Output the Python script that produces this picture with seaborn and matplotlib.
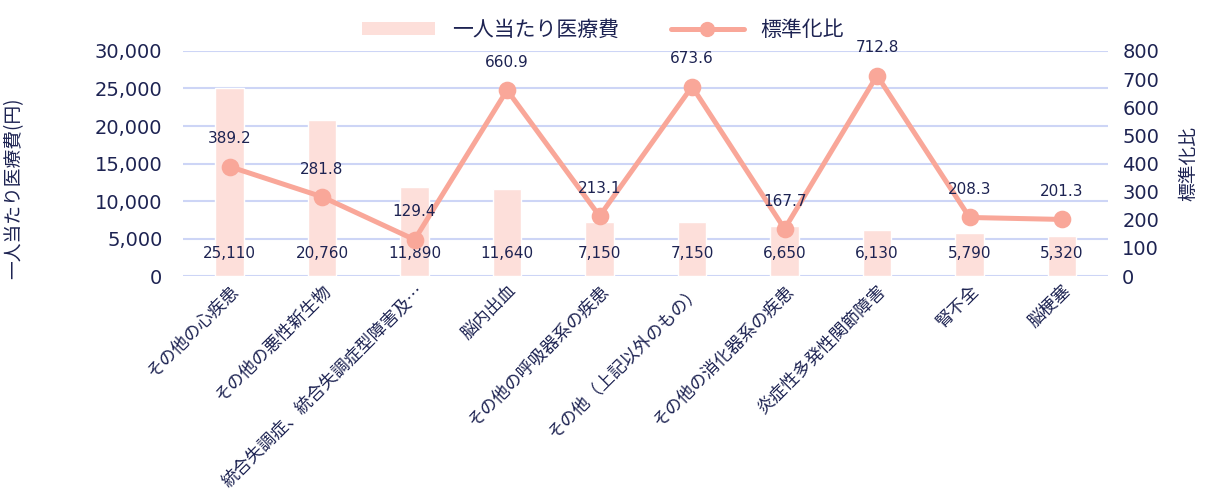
import matplotlib
matplotlib.use("Agg")
import matplotlib.pyplot as plt
import seaborn as sns
import pandas as pd
import numpy as np
from matplotlib.lines import Line2D
from matplotlib.patches import Patch

categories = ["その他の心疾患", "その他の悪性新生物", "統合失調症、統合失調症型障害及…", "脳内出血",
              "その他の呼吸器系の疾患", "その他（上記以外のもの）", "その他の消化器系の疾患",
              "炎症性多発性関節障害", "腎不全", "脳梗塞"]
cost = [25110, 20760, 11890, 11640, 7150, 7150, 6650, 6130, 5790, 5320]
ratio = [389.2, 281.8, 129.4, 660.9, 213.1, 673.6, 167.7, 712.8, 208.3, 201.3]
left_ticks = [0, 5000, 10000, 15000, 20000, 25000, 30000]
right_ticks = [0, 100, 200, 300, 400, 500, 600, 700, 800]

sns.set_theme(style="white")
plt.rcParams['font.family'] = ['DejaVu Sans', 'Noto Sans CJK JP']
JP = ['Noto Sans CJK JP', 'DejaVu Sans']

TEXT = "#1d2352"
BAR = "#fddfda"
LINE = "#f9a799"
GRID = "#cdd5f6"

df = pd.DataFrame({"cat": categories, "cost": cost, "ratio": ratio})

fig = plt.figure(figsize=(12.06, 4.93), dpi=100)
ax = fig.add_axes([0.152, 0.44, 0.767, 0.4566])
sns.barplot(data=df, x="cat", y="cost", color=BAR, width=0.31, ax=ax, saturation=1)
ax.set_ylim(0, 30000)
ax.set_yticks(left_ticks)
ax.set_yticklabels([f"{v:,}" for v in left_ticks], fontsize=14, color=TEXT)
ax.yaxis.grid(True, color=GRID, linewidth=1.5)
ax.set_axisbelow(True)
for s in ax.spines.values():
    s.set_visible(False)
ax.tick_params(axis="y", length=0, pad=15)
ax.set_xlabel("")
ax.set_ylabel("一人当たり医療費(円)", fontsize=13.5, color=TEXT, family=JP)
ax.yaxis.set_label_coords(-0.172, 0.39)
ax.set_xticks(range(len(categories)))
ax.set_xticklabels(categories, rotation=45, ha="right", rotation_mode="anchor",
                   fontsize=12.5, color=TEXT, family=JP)
ax.tick_params(axis="x", length=0, pad=4)
for i, v in enumerate(cost):
    ax.annotate(f"{v:,}", xy=(i, 0), xytext=(0, 16), textcoords="offset points",
                ha="center", va="center", fontsize=11, color=TEXT)

ax2 = ax.twinx()
sns.pointplot(data=df, x="cat", y="ratio", color=LINE, ax=ax2, markersize=10,
              linewidth=3.6)
ax2.set_ylim(0, 800)
ax2.set_yticks(right_ticks)
ax2.set_yticklabels([str(v) for v in right_ticks], fontsize=14, color=TEXT)
for s in ax2.spines.values():
    s.set_visible(False)
ax2.tick_params(axis="y", length=0, pad=10)
ax2.set_ylabel("標準化比", fontsize=13.5, color=TEXT, labelpad=14, family=JP)
ax2.set_xlabel("")
ax2.grid(False)
for i, v in enumerate(ratio):
    ax2.annotate(f"{v}", xy=(i, v), xytext=(0, 20), textcoords="offset points",
                 ha="center", va="center", fontsize=11, color=TEXT)

handles = [Patch(facecolor=BAR, edgecolor="none"),
           Line2D([0], [0], color=LINE, lw=3.6, marker="o", markersize=10)]
fig.legend(handles, ["一人当たり医療費", "標準化比"], loc="upper center",
           bbox_to_anchor=(0.5, 1.0), ncol=2, frameon=False,
           prop={"family": JP, "size": 15},
           labelcolor=TEXT, handlelength=3.5, handleheight=0.6, columnspacing=2.5)

fig.savefig("out.png", dpi=100)
